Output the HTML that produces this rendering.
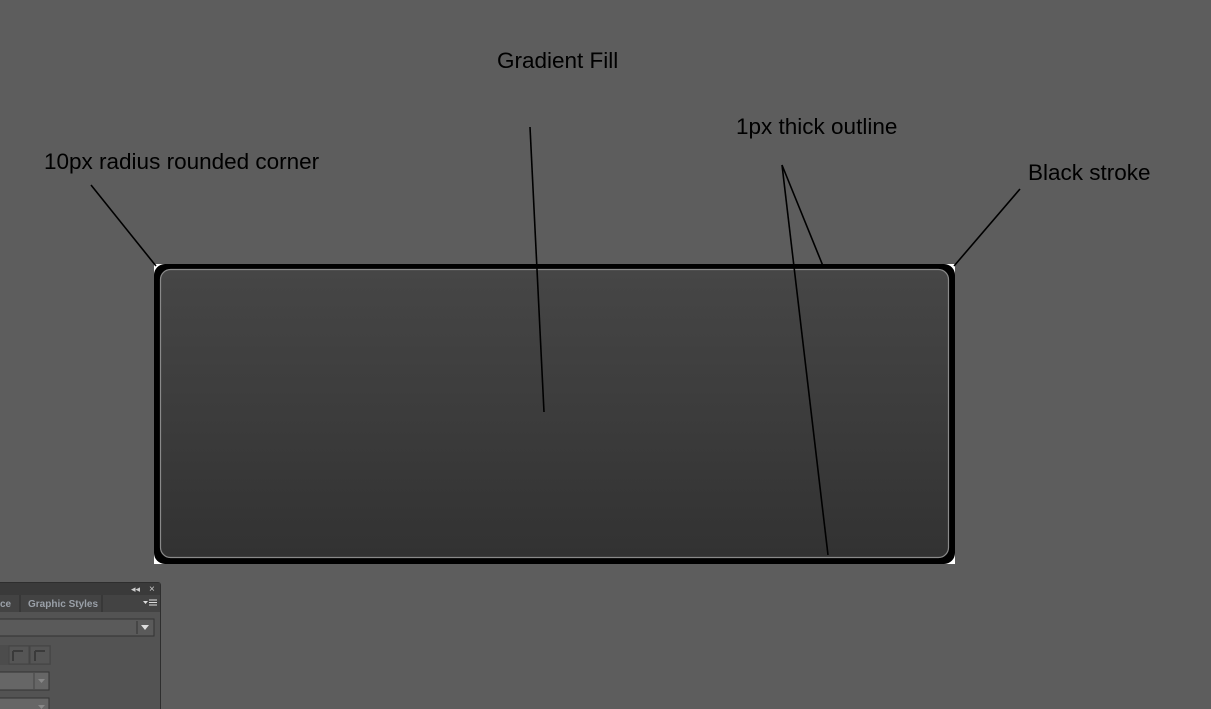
<!DOCTYPE html>
<html><head><style>
body{margin:0;width:1211px;height:709px;background:#5d5d5d;position:relative;overflow:hidden;font-family:"Liberation Sans",sans-serif}
.t{position:absolute;color:#000;font-size:22.5px;white-space:nowrap}
</style></head><body>
<svg width="1211" height="709" style="position:absolute;left:0;top:0">
<defs><linearGradient id="g" x1="0" y1="0" x2="0" y2="1"><stop offset="0" stop-color="#464646"/><stop offset="1" stop-color="#323232"/></linearGradient></defs>
<rect x="154" y="264" width="801" height="300" fill="#fff"/>
<rect x="154" y="264" width="801" height="300" rx="11" fill="#000"/>
<rect x="160.5" y="269.5" width="788" height="288" rx="10" fill="url(#g)" stroke="#8a8a8a" stroke-width="1.2"/>
<g stroke="#000" stroke-width="1.6" fill="none">
<line x1="91" y1="185" x2="156" y2="266"/>
<line x1="530" y1="127" x2="544" y2="412"/>
<line x1="782" y1="165" x2="823" y2="266"/>
<line x1="782" y1="165" x2="828" y2="555"/>
<line x1="1020" y1="189" x2="954" y2="266"/>
</g>
<rect x="-5" y="582" width="166" height="140" rx="3" fill="#2e2e2e"/>
<rect x="-5" y="583" width="165" height="12" fill="#3a3a3a"/>
<rect x="-5" y="595" width="165" height="17" fill="#434343"/>
<rect x="-5" y="612" width="165" height="100" fill="#535353"/>
<line x1="20" y1="595" x2="20" y2="612" stroke="#2e2e2e"/>
<line x1="102" y1="595" x2="102" y2="612" stroke="#2e2e2e"/>
<rect x="-5" y="619" width="159" height="17" fill="#5a5a5a" stroke="#333"/>
<line x1="137" y1="621" x2="137" y2="634" stroke="#333"/>
<path d="M141 625h8l-4 5z" fill="#ddd"/>
<rect x="-5" y="645" width="56" height="20" fill="#4c4c4c"/>
<rect x="9" y="646" width="20" height="18" fill="#555" stroke="#444"/>
<rect x="30" y="646" width="20" height="18" fill="#555" stroke="#444"/>
<path d="M13 651h10M13 651v10M35 651h10M35 651v10" stroke="#3a3a3a" stroke-width="2"/>
<rect x="-5" y="672" width="54" height="18" fill="#666" stroke="#333"/>
<line x1="34" y1="673" x2="34" y2="689" stroke="#444"/>
<path d="M38 679h7l-3.5 4z" fill="#888"/>
<rect x="-5" y="698" width="54" height="18" fill="#666" stroke="#333"/>
<path d="M38 705h7l-3.5 4z" fill="#888"/>
<text x="0" y="607" font-size="10" font-weight="bold" fill="#9aa0a8" font-family="Liberation Sans">ce</text>
<text x="28" y="607" font-size="10" font-weight="bold" fill="#9aa0a8" font-family="Liberation Sans">Graphic Styles</text>
<text x="131" y="592" font-size="9" fill="#ccc" font-family="Liberation Sans">◂◂</text>
<text x="149" y="592" font-size="10" fill="#ccc" font-family="Liberation Sans">×</text>
<path d="M143 601h5l-2.5 3z" fill="#ddd"/><path d="M149 600h8M149 602.5h8M149 605h8" stroke="#ddd"/>
</svg>
<div class="t" style="left:497px;top:48px">Gradient Fill</div>
<div class="t" style="left:736px;top:114px">1px thick outline</div>
<div class="t" style="left:44px;top:149px">10px radius rounded corner</div>
<div class="t" style="left:1028px;top:160px">Black stroke</div>
</body></html>
